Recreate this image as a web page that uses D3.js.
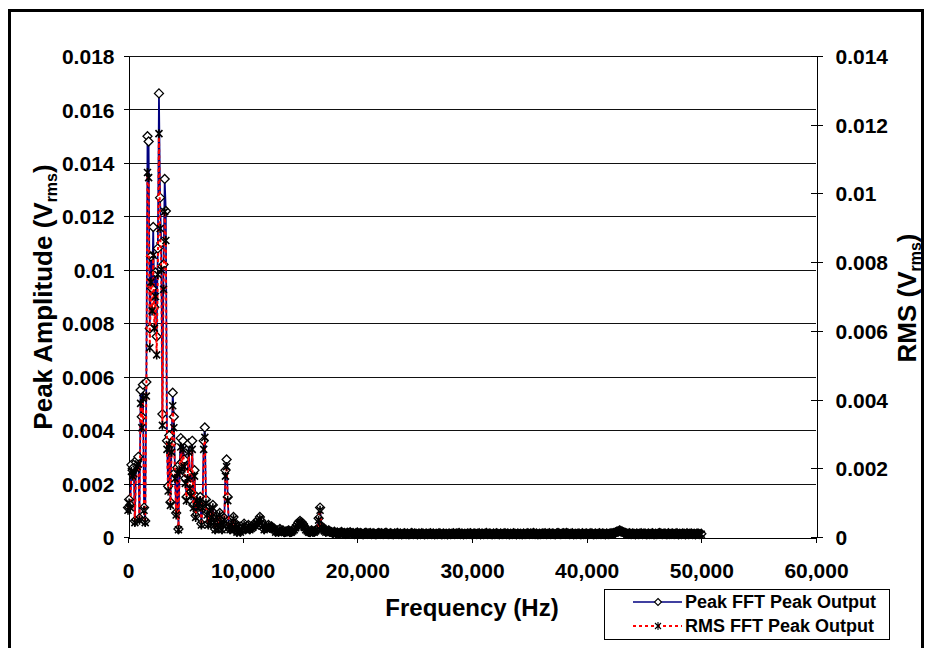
<!DOCTYPE html>
<html>
<head>
<meta charset="utf-8">
<script src="https://cdn.jsdelivr.net/npm/d3@7"></script>
<style>
  body { margin: 0; background: #fff; }
  svg text { font-family: "Liberation Sans", Arial, sans-serif; font-weight: bold; fill: #000; }
</style>
</head>
<body>
<div id="chart"></div>
<script>
// FFT bins: 100 Hz steps below 10 kHz, 125 Hz steps from 10 kHz to 50 kHz
var lowFreq = d3.range(0, 10000, 100);
var highFreq = d3.range(10000, 50001, 125);

// values, in mV
var peakLow = [1.1,1.4,1.2,2.7,2.5,2.6,0.6,2.8,2.9,3.0,
  0.7,5.5,4.5,5.7,1.1,0.6,5.8,15.0,14.8,7.8,
  10.5,9.3,11.6,8.6,9.9,7.5,10.8,16.6,12.7,11.0,
  4.6,10.2,13.4,12.2,3.6,1.9,3.8,1.3,3.5,5.4,
  4.5,2.4,0.9,2.6,0.3,2.7,3.7,2.8,3.6,2.9,
  2.2,1.5,2.4,3.5,2.0,1.7,3.6,1.2,2.5,0.8,
  1.5,1.2,1.4,1.5,0.5,1.2,3.6,4.1,1.4,0.9,
  0.5,1.1,0.6,0.8,1.2,0.6,0.3,0.8,0.5,0.4,
  0.9,0.6,0.3,0.5,0.7,2.5,2.9,1.5,0.4,0.3,
  0.5,0.4,0.75,0.3,0.5,0.2,0.4,0.3,0.2,0.3];

var rmsLow = [0.78,0.99,0.85,1.91,1.77,1.84,0.42,1.98,2.05,2.12,
  0.49,3.89,3.18,4.03,0.78,0.42,4.10,10.61,10.46,5.51,
  7.42,6.58,8.20,6.08,7.00,5.30,7.64,11.74,8.98,7.78,
  3.25,7.21,9.47,8.63,2.55,1.34,2.69,0.92,2.47,3.82,
  3.18,1.70,0.64,1.84,0.21,1.91,2.62,1.98,2.55,2.05,
  1.56,1.06,1.70,2.47,1.41,1.20,2.55,0.85,1.77,0.57,
  1.06,0.85,0.99,1.06,0.35,0.85,2.55,2.90,0.99,0.64,
  0.35,0.78,0.42,0.57,0.85,0.42,0.21,0.57,0.35,0.28,
  0.64,0.42,0.21,0.35,0.49,1.77,2.05,1.06,0.28,0.21,
  0.35,0.28,0.53,0.21,0.35,0.14,0.28,0.21,0.14,0.21];

var peakHigh = [0.4,0.5,0.3,0.35,0.45,0.3,0.35,0.4,0.5,0.45,
  0.55,0.65,0.75,0.6,0.45,0.3,0.35,0.4,0.45,0.35,
  0.4,0.35,0.3,0.2,0.25,0.2,0.3,0.22,0.25,0.18,
  0.2,0.22,0.25,0.18,0.2,0.25,0.3,0.38,0.45,0.55,
  0.6,0.55,0.5,0.4,0.3,0.25,0.2,0.18,0.25,0.2,
  0.2,0.25,0.3,0.7,1.1,0.4,0.35,0.25,0.2,0.22,
  0.25,0.2,0.18,
  0.15,0.2,0.14,0.17,0.13,0.16,0.19,0.14,0.15,0.12,
  0.16,0.14,0.18,0.13,0.15,0.11,0.14,0.17,0.12,0.15,
  0.13,0.1,0.14,0.16,0.12,0.13,0.15,0.11,0.14,0.12,
  0.1,0.13,0.15,0.12,0.14,0.11,0.13,0.16,0.12,0.11,
  0.14,0.12,0.1,0.13,0.12,0.15,0.11,0.13,0.1,0.12,
  0.14,0.11,0.13,0.1,0.12,0.15,0.11,0.13,0.12,0.1,
  0.13,0.11,0.14,0.12,0.1,0.13,0.11,0.12,0.14,0.11,
  0.13,0.1,0.12,0.11,0.14,0.12,0.1,0.13,0.11,0.12,
  0.1,0.13,0.11,0.12,0.14,0.11,0.13,0.12,0.15,0.11,
  0.13,0.1,0.12,0.11,0.13,0.12,0.14,0.1,0.12,0.13,
  0.11,0.12,0.14,0.1,0.13,0.11,0.12,0.15,0.11,0.13,
  0.12,0.1,0.13,0.11,0.14,0.12,0.1,0.13,0.11,0.12,
  0.14,0.11,0.13,0.1,0.12,0.11,0.14,0.12,0.1,0.13,
  0.11,0.12,0.1,0.13,0.11,0.12,0.14,0.11,0.13,0.12,
  0.15,0.11,0.13,0.1,0.12,0.11,0.13,0.12,0.14,0.11,
  0.12,0.14,0.11,0.13,0.12,0.1,0.13,0.15,0.12,0.11,
  0.13,0.14,0.12,0.15,0.13,0.11,0.12,0.14,0.1,0.12,
  0.11,0.13,0.12,0.1,0.14,0.11,0.12,0.13,0.11,0.12,
  0.14,0.12,0.1,0.13,0.11,0.12,0.14,0.11,0.13,0.12,
  0.1,0.13,0.11,0.12,0.14,0.13,0.15,0.17,0.2,0.22,
  0.25,0.22,0.2,0.17,0.15,0.13,0.12,0.14,0.11,0.13,
  0.12,0.1,0.13,0.11,0.12,0.14,0.11,0.13,0.12,0.1,
  0.13,0.11,0.12,0.14,0.1,0.12,0.11,0.13,0.15,0.12,
  0.11,0.13,0.12,0.1,0.14,0.11,0.12,0.13,0.11,0.12,
  0.14,0.1,0.12,0.11,0.13,0.12,0.1,0.14,0.11,0.12,
  0.13,0.11,0.12,0.1,0.13,0.12,0.11,0.12];

var rmsHigh = [0.28,0.35,0.21,0.25,0.32,0.21,0.25,0.28,0.35,0.32,
  0.39,0.46,0.53,0.42,0.32,0.21,0.25,0.28,0.32,0.25,
  0.28,0.25,0.21,0.14,0.18,0.14,0.21,0.16,0.18,0.13,
  0.14,0.16,0.18,0.13,0.14,0.18,0.21,0.27,0.32,0.39,
  0.42,0.39,0.35,0.28,0.21,0.18,0.14,0.13,0.18,0.14,
  0.14,0.18,0.21,0.49,0.78,0.28,0.25,0.18,0.14,0.16,
  0.18,0.14,0.13,
  0.11,0.14,0.10,0.12,0.09,0.11,0.13,0.10,0.11,0.08,
  0.11,0.10,0.13,0.09,0.11,0.08,0.10,0.12,0.08,0.11,
  0.09,0.07,0.10,0.11,0.08,0.09,0.11,0.08,0.10,0.08,
  0.07,0.09,0.11,0.08,0.10,0.08,0.09,0.11,0.08,0.08,
  0.10,0.08,0.07,0.09,0.08,0.11,0.08,0.09,0.07,0.08,
  0.10,0.08,0.09,0.07,0.08,0.11,0.08,0.09,0.08,0.07,
  0.09,0.08,0.10,0.08,0.07,0.09,0.08,0.08,0.10,0.08,
  0.09,0.07,0.08,0.08,0.10,0.08,0.07,0.09,0.08,0.08,
  0.07,0.09,0.08,0.08,0.10,0.08,0.09,0.08,0.11,0.08,
  0.09,0.07,0.08,0.08,0.09,0.08,0.10,0.07,0.08,0.09,
  0.08,0.08,0.10,0.07,0.09,0.08,0.08,0.11,0.08,0.09,
  0.08,0.07,0.09,0.08,0.10,0.08,0.07,0.09,0.08,0.08,
  0.10,0.08,0.09,0.07,0.08,0.08,0.10,0.08,0.07,0.09,
  0.08,0.08,0.07,0.09,0.08,0.08,0.10,0.08,0.09,0.08,
  0.11,0.08,0.09,0.07,0.08,0.08,0.09,0.08,0.10,0.08,
  0.08,0.10,0.08,0.09,0.08,0.07,0.09,0.11,0.08,0.08,
  0.09,0.10,0.08,0.11,0.09,0.08,0.08,0.10,0.07,0.08,
  0.08,0.09,0.08,0.07,0.10,0.08,0.08,0.09,0.08,0.08,
  0.10,0.08,0.07,0.09,0.08,0.08,0.10,0.08,0.09,0.08,
  0.07,0.09,0.08,0.08,0.10,0.09,0.11,0.12,0.14,0.16,
  0.18,0.16,0.14,0.12,0.11,0.09,0.08,0.10,0.08,0.09,
  0.08,0.07,0.09,0.08,0.08,0.10,0.08,0.09,0.08,0.07,
  0.09,0.08,0.08,0.10,0.07,0.08,0.08,0.09,0.11,0.08,
  0.08,0.09,0.08,0.07,0.10,0.08,0.08,0.09,0.08,0.08,
  0.10,0.07,0.08,0.08,0.09,0.08,0.07,0.10,0.08,0.08,
  0.09,0.08,0.08,0.07,0.09,0.08,0.08,0.08];

var leftTicks = [0, 0.002, 0.004, 0.006, 0.008, 0.01, 0.012, 0.014, 0.016, 0.018];
var rightTicks = [0, 0.002, 0.004, 0.006, 0.008, 0.01, 0.012, 0.014];
var xTicks = [0, 10000, 20000, 30000, 40000, 50000, 60000];
var seriesNames = ["Peak FFT Peak Output", "RMS FFT Peak Output"];

(function() {

  var width = 928, height = 648;
  var plot = { left: 128, right: 816, top: 56, bottom: 537 };

  var freqs = lowFreq.concat(highFreq);
  var peaks = peakLow.concat(peakHigh);
  var rmss = rmsLow.concat(rmsHigh);
  var points = freqs.map(function(f, i) {
    return { freq: f, peak: peaks[i] / 1000, rms: rmss[i] / 1000 };
  });

  var svg = d3.select("#chart")
    .append("svg")
    .attr("width", width)
    .attr("height", height);

  svg.append("rect")
    .attr("width", width).attr("height", height)
    .attr("fill", "#fff");

  // outer frame
  svg.append("rect")
    .attr("x", 9.5).attr("y", 10.5)
    .attr("width", 913).attr("height", 700)
    .attr("fill", "none")
    .attr("stroke", "#000")
    .attr("stroke-width", 3);

  var xScale = d3.scaleLinear().domain([0, 60000]).range([plot.left, plot.right]);
  var yLeft = d3.scaleLinear().domain([0, 0.018]).range([plot.bottom, plot.top]);
  var yRight = d3.scaleLinear().domain([0, 0.014]).range([plot.bottom, plot.top]);

  // gridlines
  svg.append("g")
    .selectAll("line")
    .data(leftTicks.slice(1))
    .enter().append("line")
    .attr("x1", plot.left).attr("x2", plot.right)
    .attr("y1", function(d) { return Math.round(yLeft(d)) + 0.5 })
    .attr("y2", function(d) { return Math.round(yLeft(d)) + 0.5 })
    .attr("stroke", "#111")
    .attr("stroke-width", 1);

  var fmt = function(d) { return d === 0 ? "0" : String(d) };

  var leftAxis = svg.append("g")
    .attr("transform", "translate(" + (plot.left + 0.5) + ",0)")
    .call(d3.axisLeft(yLeft).tickValues(leftTicks).tickFormat(fmt).tickSize(5).tickSizeOuter(0).tickPadding(9));

  var rightAxis = svg.append("g")
    .attr("transform", "translate(" + (plot.right + 0.5) + ",0)")
    .call(d3.axisRight(yRight).tickValues(rightTicks).tickFormat(fmt).tickSize(6).tickSizeOuter(0).tickPadding(13));
  rightAxis.selectAll(".tick line").attr("x1", -6);

  var xAxis = svg.append("g")
    .attr("transform", "translate(0," + (plot.bottom + 0.5) + ")")
    .call(d3.axisBottom(xScale).tickValues(xTicks).tickFormat(d3.format(",")).tickSize(5).tickSizeOuter(0).tickPadding(21));

  svg.selectAll(".domain, .tick line").attr("stroke", "#000").attr("shape-rendering", "crispEdges");
  svg.selectAll(".tick text").attr("font-size", "21px").attr("font-family", null);
  leftAxis.selectAll(".tick text").attr("dy", "0.36em");
  rightAxis.selectAll(".tick text").attr("dy", "0.36em");

  // series lines
  var peakLine = d3.line()
    .x(function(d) { return xScale(d.freq) })
    .y(function(d) { return yLeft(d.peak) });
  var rmsLine = d3.line()
    .x(function(d) { return xScale(d.freq) })
    .y(function(d) { return yRight(d.rms) });

  svg.append("path")
    .datum(points)
    .attr("d", peakLine)
    .attr("fill", "none")
    .attr("stroke", "#000080")
    .attr("stroke-width", 1.7);

  var diamond = "M0,-4.5L4.5,0L0,4.5L-4.5,0Z";
  var star = "M-3.5,-3.5L3.5,3.5M-3.5,3.5L3.5,-3.5M0,-4.5L0,4.5";

  svg.selectAll(".peak-marker")
    .data(points)
    .enter().append("path")
    .attr("class", "peak-marker")
    .attr("d", diamond)
    .attr("transform", function(d) { return "translate(" + xScale(d.freq) + "," + yLeft(d.peak) + ")" })
    .attr("fill", "#fff")
    .attr("stroke", "#000")
    .attr("stroke-width", 1.3);

  svg.append("path")
    .datum(points)
    .attr("d", rmsLine)
    .attr("fill", "none")
    .attr("stroke", "#ff0000")
    .attr("stroke-width", 2)
    .attr("stroke-dasharray", "3,3");

  svg.selectAll(".rms-marker")
    .data(points)
    .enter().append("path")
    .attr("class", "rms-marker")
    .attr("d", star)
    .attr("transform", function(d) { return "translate(" + xScale(d.freq) + "," + yRight(d.rms) + ")" })
    .attr("fill", "none")
    .attr("stroke", "#000")
    .attr("stroke-width", 1.6);

  // axis titles
  svg.append("text")
    .attr("x", 472).attr("y", 616)
    .attr("text-anchor", "middle")
    .attr("font-size", "24px")
    .text("Frequency (Hz)");

  function vTitle(x, y, main) {
    var t = svg.append("text")
      .attr("transform", "translate(" + x + "," + y + ") rotate(-90)")
      .attr("text-anchor", "middle")
      .attr("font-size", "26px");
    t.append("tspan").text(main + " (V");
    t.append("tspan").attr("font-size", "16px").attr("dy", "5").text("rms");
    t.append("tspan").attr("dy", "-5").text(")");
  }
  vTitle(52, 297, "Peak Amplitude");
  vTitle(916, 298, "RMS");

  // legend
  var legend = svg.append("g").attr("transform", "translate(604,589)");
  legend.append("rect")
    .attr("x", 0.5).attr("y", 0.5)
    .attr("width", 285).attr("height", 50)
    .attr("fill", "#fff")
    .attr("stroke", "#000");

  var rows = legend.selectAll(".legend-row")
    .data(seriesNames)
    .enter().append("g")
    .attr("class", "legend-row")
    .attr("transform", function(d, i) { return "translate(0," + (13 + i * 24) + ")" });

  rows.append("line")
    .attr("x1", 29).attr("x2", 78)
    .attr("stroke", function(d, i) { return i === 0 ? "#000080" : "#ff0000" })
    .attr("stroke-width", function(d, i) { return i === 0 ? 1.5 : 2 })
    .attr("stroke-dasharray", function(d, i) { return i === 0 ? null : "3,3" });

  rows.append("path")
    .attr("transform", "translate(54,0)")
    .attr("d", function(d, i) { return i === 0 ? "M0,-3.5L3.5,0L0,3.5L-3.5,0Z" : "M-3,-3L3,3M-3,3L3,-3M0,-4L0,4" })
    .attr("fill", function(d, i) { return i === 0 ? "#fff" : "none" })
    .attr("stroke", "#000")
    .attr("stroke-width", 1.1);

  rows.append("text")
    .attr("x", 81)
    .attr("dy", "0.36em")
    .attr("font-size", "18px")
    .text(function(d) { return d });

})();
</script>
</body>
</html>
